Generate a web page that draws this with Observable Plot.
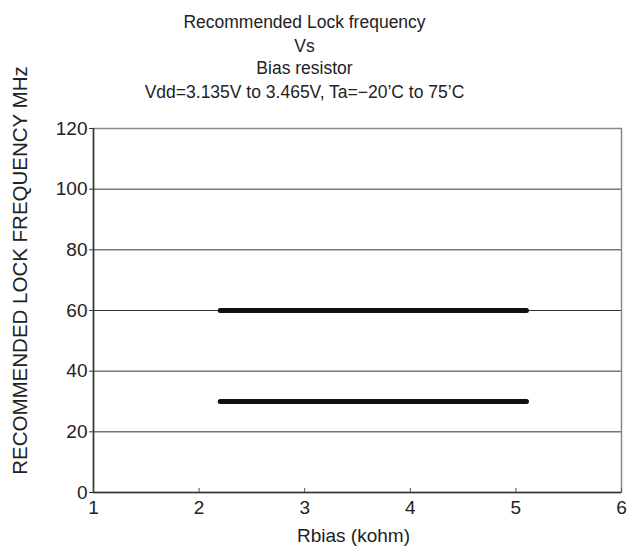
<!DOCTYPE html>
<html>
<head>
<meta charset="utf-8">
<script src="https://cdn.jsdelivr.net/npm/d3@7"></script>
<script src="https://cdn.jsdelivr.net/npm/@observablehq/plot@0.6"></script>
<style>
  html, body { margin: 0; padding: 0; background: #fff; }
  body { width: 632px; height: 552px; overflow: hidden; }
  #chart svg { display: block; }
</style>
</head>
<body>
<div id="chart"></div>
<script>
const titleLines = ["Recommended Lock frequency", "Vs", "Bias resistor", "Vdd=3.135V to 3.465V, Ta=\u221220\u2019C to 75\u2019C"];
const xLabel = "Rbias (kohm)";
const yLabel = "RECOMMENDED LOCK FREQUENCY MHz";
const xTicks = [1, 2, 3, 4, 5, 6];
const yTicks = [0, 20, 40, 60, 80, 100, 120];
const seriesNames = ["upper", "lower"];
const rbiasStart = [2.2, 2.2];
const rbiasEnd = [5.1, 5.1];
const lockFreq = [60, 30];

const segments = seriesNames.map((s, i) => ({name: s, x1: rbiasStart[i], x2: rbiasEnd[i], y: lockFreq[i]}));
const titleRows = titleLines.map((t, i) => ({text: t, i}));
const titleDy = [-106, -82, -60, -36];

const chart = Plot.plot({
  width: 632,
  height: 552,
  marginTop: 128,
  marginBottom: 60,
  marginLeft: 93,
  marginRight: 11,
  style: {fontFamily: "Liberation Sans, Arial, sans-serif", color: "#222", fontSize: "19px", background: "#fff", overflow: "visible"},
  x: {domain: [1, 6]},
  y: {domain: [0, 120]},
  marks: [
    Plot.gridY(yTicks.filter(d => d > 0 && d < 120), {stroke: "#333", strokeOpacity: 1, strokeWidth: 1}),
    Plot.frame({stroke: "#888", strokeWidth: 1.5}),
    Plot.ruleX([1], {stroke: "#333", strokeWidth: 1.5}),
    Plot.ruleY([0], {stroke: "#333", strokeWidth: 1.5}),
    Plot.axisY({ticks: yTicks, tickSize: 4, tickPadding: 2, label: null, fontSize: 19, stroke: "#333", tickFormat: "d"}),
    Plot.axisX({ticks: xTicks, tickSize: -4, tickPadding: 12, label: null, fontSize: 19, stroke: "#555", tickFormat: "d"}),
    Plot.link(segments, {x1: "x1", x2: "x2", y1: "y", y2: "y", stroke: "#111", strokeWidth: 5, strokeLinecap: "round"}),
    ...titleRows.map((r, i) => Plot.text([r.text], {frameAnchor: "top", lineAnchor: "middle", dx: 304 - 357, dy: titleDy[i], fontSize: 17.5, fill: "#222"})),
    Plot.text([yLabel], {frameAnchor: "left", rotate: -90, textAnchor: "middle", lineAnchor: "middle", dx: -73, dy: -40, fontSize: 20.5, fill: "#222"}),
    Plot.text([xLabel], {frameAnchor: "bottom", lineAnchor: "middle", dx: -4, dy: 43, fontSize: 19, fill: "#222"})
  ]
});
document.getElementById("chart").appendChild(chart);
</script>
</body>
</html>
